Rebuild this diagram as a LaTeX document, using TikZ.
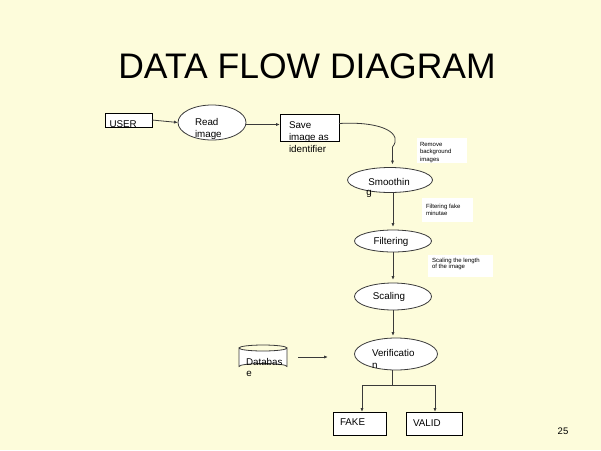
\documentclass[tikz,border=0pt]{standalone}
\usepackage{fontspec}
\setmainfont{Liberation Sans}
\usetikzlibrary{arrows.meta,shapes.geometric}
\definecolor{slide}{HTML}{FDFCDB}
\definecolor{ink}{HTML}{3A3A3A}

\begin{document}
\begin{tikzpicture}[x=1pt,y=-1pt,
  every node/.style={inner sep=0pt, outer sep=0pt, text=black,
    font=\fontsize{9.8}{12}\selectfont},
  procbox/.style={draw=black, fill=white, line width=0.8pt, rectangle},
  proc/.style={draw=ink, fill=white, line width=0.8pt, ellipse},
  note/.style={fill=white, rectangle},
  small/.style={font=\fontsize{6}{7.5}\selectfont, align=left, anchor=west},
  flow/.style={draw=ink, line width=0.8pt, -{Latex[length=4pt,width=3.2pt]}},
  plain/.style={draw=ink, line width=0.8pt},
]
% page
\fill[slide] (0,0) rectangle (601,450);
\useasboundingbox (0,0) rectangle (601,450);

% title
\node[font=\fontsize{35.5}{40}\selectfont] (title) at (307,66.5) {DATA FLOW DIAGRAM};

% shapes
\node[procbox, minimum width=47pt, minimum height=14pt] (user) at (128.5,120) {};
\node[proc, minimum width=68pt, minimum height=35pt] (read) at (212,122.5) {};
\node[procbox, minimum width=59pt, minimum height=27pt] (save) at (309.5,127.5) {};
\node[proc, minimum width=85pt, minimum height=25pt] (smooth) at (390,180) {};
\node[proc, minimum width=77pt, minimum height=22pt] (filt) at (393,241) {};
\node[proc, minimum width=77pt, minimum height=27pt] (scal) at (393,296.5) {};
\node[proc, minimum width=83pt, minimum height=32pt] (verif) at (396,354) {};
\node[procbox, minimum width=53pt, minimum height=23pt] (fake) at (359.5,423.5) {};
\node[procbox, minimum width=56pt, minimum height=23pt] (valid) at (434,423.5) {};

% database drum
\node[minimum width=48pt, minimum height=24pt] (db) at (263,357.5) {};
\filldraw[fill=white, draw=ink, line width=0.8pt]
  (239,348) -- (239,366.5) arc[start angle=180, end angle=360, x radius=24, y radius=3]
  -- (287,348) arc[start angle=0, end angle=180, x radius=24, y radius=3] -- cycle;
\draw[ink, line width=0.8pt] (239,348) arc[start angle=180, end angle=360, x radius=24, y radius=3];

% side notes
\node[note, minimum width=50pt, minimum height=25pt] (rmbox) at (442,150.5) {};
\node[note, minimum width=51pt, minimum height=24pt] (ffbox) at (447.5,210) {};
\node[note, minimum width=65pt, minimum height=22pt] (scbox) at (460.5,266) {};

% texts
\node[anchor=west] (usert) at (109.5,124.5) {USER};
\node[align=left, anchor=west] (readt) at (195,129) {Read\\image};
\node[align=left, anchor=west] (savet) at (289,137) {Save\\image as\\identifier};
\node (smootht) at (389,182) {Smoothin};
\node (smoothg) at (369,194) {g};
\node (filtt) at (391,242) {Filtering};
\node (scalt) at (389,297) {Scaling};
\node[anchor=west] (veriat) at (372,353) {Verificatio};
\node[anchor=west] (verinn) at (372,365.5) {n};
\node[anchor=west] (dbt) at (246,362) {Databas};
\node (dbe) at (249,374) {e};
\node[anchor=west] (faket) at (340,422) {FAKE};
\node[anchor=west] (validt) at (413,423) {VALID};
\node[small] (rmt) at (420,152.5) {Remove\\background\\images};
\node[small] (fft) at (426,210) {Filtering fake\\minutae};
\node[small, font=\fontsize{6}{6.5}\selectfont] (sct) at (432,264) {Scaling the length\\of the image};
\node[font=\fontsize{9.5}{11}\selectfont] (page) at (563,431) {25};

% connectors
\draw[flow] (user.east) -- (read.west);
\draw[flow] (read.east |- 0,124.5) -- (save.west |- 0,124.5);
\draw[flow] ([yshift=4pt]save.east) .. controls (384,121) and (403,134) .. (392.5,147)
  -- ([xshift=2.5pt,yshift=3pt]smooth.north);
\draw[flow, shorten >=3pt] (filt.north |- smooth.south) -- (filt.north);
\draw[flow, shorten >=3pt] (filt.south) -- (scal.north);
\draw[flow, shorten >=2pt] (scal.south) -- (verif.north -| scal.south);
\coordinate (dbout) at (298,357);
\coordinate (dbin) at (328,357);
\draw[flow] (dbout) -- (dbin);
\coordinate (split) at (392,385);
\coordinate (lft) at (362,385);
\coordinate (rgt) at (435,385);
\draw[plain] (split |- verif.south) -- (split);
\draw[plain] (lft) -- (rgt);
\draw[flow] (lft) -- (lft |- fake.north);
\draw[flow] (rgt) -- (rgt |- valid.north);
\end{tikzpicture}
\end{document}
